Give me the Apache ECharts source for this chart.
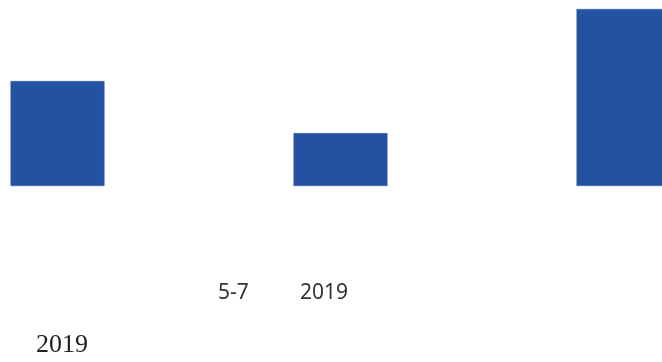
<!DOCTYPE html>
<html>
<head>
<meta charset="UTF-8" />
<style>
  html, body { margin: 0; padding: 0; background: #fff; }
  #chart { width: 662px; height: 362px; }
</style>
</head>
<body>
<div id="chart"></div>
<script src="https://cdn.jsdelivr.net/npm/echarts@6/dist/echarts.min.js"></script>
<script>
const categories = ['A', 'B', 'C'];
const values = [59.3, 29.9, 100];
const notes = ['5-7', '2019'];
const footer = '2019';

const chart = echarts.init(document.getElementById('chart'));
chart.setOption({
  animation: false,
  grid: { left: -84, right: -103, top: 9, bottom: 176, outerBoundsMode: 'none', containLabel: false },
  xAxis: {
    type: 'category',
    data: categories,
    show: false
  },
  yAxis: { type: 'value', min: 0, max: 100, show: false },
  series: [{
    type: 'bar',
    data: values,
    barWidth: 94,
    itemStyle: { color: '#2352a0', borderColor: '#3a63ad', borderWidth: 0.5 }
  }],
  graphic: [
    { type: 'text', left: 218, top: 283,
      style: { text: notes[0], font: '21px "Noto Sans", sans-serif', fill: '#333' } },
    { type: 'text', left: 300, top: 283,
      style: { text: notes[1], font: '21px "Noto Sans", sans-serif', fill: '#333' } },
    { type: 'text', left: 36, top: 332,
      style: { text: footer, font: '26px "Liberation Serif", serif', fill: '#222' } }
  ]
});
</script>
</body>
</html>
